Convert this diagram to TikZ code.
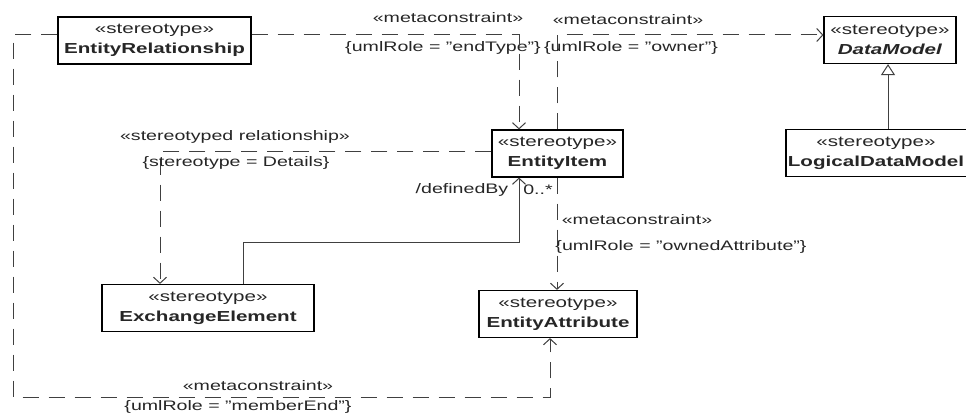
\documentclass[tikz,border=0pt]{standalone}
\usepackage{fontspec}
\setmainfont[FakeStretch=1.42]{Liberation Sans}
\usetikzlibrary{arrows.meta}
\begin{document}
\begin{tikzpicture}[x=1pt,y=-1pt,
  box/.style={draw=black, line width=1.2pt, fill=white, inner sep=0pt, align=center,
    minimum height=47pt, font=\fontsize{14.5}{20}\selectfont, text=black!85},
  lbl/.style={font=\fontsize{13.8}{15}\selectfont, text=black!85, inner sep=0pt},
  dep/.style={draw=black!75, line width=1pt, dash pattern=on 16pt off 10pt,
    -{Straight Barb[length=6pt,width=13pt,line width=1pt]}},
  assoc/.style={draw=black!75, line width=1pt,
    -{Straight Barb[length=6pt,width=13pt,line width=1pt]}},
  gen/.style={draw=black!75, line width=1pt,
    -{Triangle[open,length=11pt,width=14pt,line width=1pt]}}
]
\useasboundingbox (0,0) rectangle (966,414);

% boxes
\node[box, minimum width=193pt] (er) at (154.5,40.5) {«stereotype»\\\textbf{EntityRelationship}};
\node[box, minimum width=132pt] (dm) at (890,40) {«stereotype»\\\textbf{\textit{DataModel}}};
\node[box, minimum width=131pt] (ei) at (557.5,153.5) {«stereotype»\\\textbf{EntityItem}};
\node[box, minimum width=200pt, text width=180pt] (ldm) at (886,153) {\hspace*{-20pt}«stereotype»\\\hspace*{-20pt}\textbf{LogicalDataModel}};
\node[box, minimum width=212pt] (ee) at (208,308) {«stereotype»\\\textbf{ExchangeElement}};
\node[box, minimum width=158pt] (ea) at (558,314) {«stereotype»\\\textbf{EntityAttribute}};

% connector helpers
\coordinate (erE) at (er.east |- 0,35);
\coordinate (erW) at (er.west |- 0,35);

% endType
\draw[dep] (erE) -- (519,35) -- (ei.north -| 519,0);
% owner
\draw[dep] (ei.north -| 557,0) -- (557,35) -- (dm.west |- 0,35);
% stereotyped relationship
\draw[dep] (ei.west |- 0,152) -- (160,152) -- (ee.north -| 160,0);
% definedBy
\draw[assoc] (ee.north -| 243,0) -- (243,242) -- (519,242) -- (ei.south -| 519,0);
% ownedAttribute
\draw[dep] (ei.south -| 557,0) -- (ea.north -| 557,0);
% generalization
\draw[gen] (ldm.north -| 888,0) -- (dm.south -| 888,0);
% memberEnd
\draw[dep] (erW) -- (13,35) -- (13,397) -- (550,397) -- (ea.south -| 550,0);

% labels
\node[lbl] (l1a) at (448,18) {«metaconstraint»};
\node[lbl] (l1b) at (443,48) {\{umlRole = "endType"\}};
\node[lbl] (l2a) at (628,20) {«metaconstraint»};
\node[lbl] (l2b) at (631,48) {\{umlRole = "owner"\}};
\node[lbl] (l3a) at (235,137) {«stereotyped relationship»};
\node[lbl] (l3b) at (236,163) {\{stereotype = Details\}};
\node[lbl] (l4a) at (462,190) {/definedBy};
\node[lbl] (l4b) at (538,190) {0..*};
\node[lbl] (l5a) at (637,220) {«metaconstraint»};
\node[lbl] (l5b) at (681,247) {\{umlRole = "ownedAttribute"\}};
\node[lbl] (l6a) at (258,386) {«metaconstraint»};
\node[lbl] (l6b) at (238,407) {\{umlRole = "memberEnd"\}};
\end{tikzpicture}
\end{document}
